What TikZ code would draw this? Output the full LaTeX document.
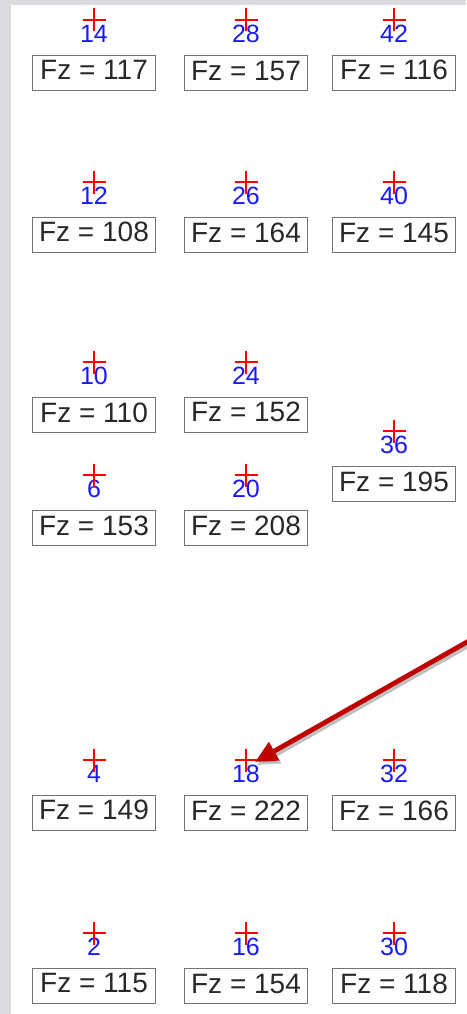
\documentclass[tikz,border=0pt]{standalone}
\usepackage{fontspec}
\setmainfont{Liberation Sans}
\usepackage{xcolor}
\usepackage{tikz}
\usetikzlibrary{arrows.meta, positioning}

\definecolor{bggray}{RGB}{220,218,222}
\definecolor{boxgray}{RGB}{115,115,115}
\definecolor{fztext}{RGB}{40,40,40}
\definecolor{idblue}{RGB}{25,25,255}
\definecolor{arrowred}{RGB}{192,0,0}

\newcommand{\fzfont}{\fontsize{28}{30}\selectfont}
\newcommand{\idfont}{\fontsize{25}{27}\selectfont}
\newcommand{\crossat}[1]{\draw[plus] (#1) +(-11.5,0) -- +(11.5,0) +(0,-11.5) -- +(0,11.5);}

\begin{document}
\begin{tikzpicture}[x=1pt, y=-1pt,
  fzbox/.style={rectangle, draw=boxgray, line width=1.2pt, minimum width=123pt, minimum height=35pt, inner sep=0pt, text height=20pt, text depth=6pt, text=fztext, font=\fzfont},
  idlabel/.style={inner sep=0pt, text=idblue, font=\idfont},
  plus/.style={red, line width=1.3pt},
  pointer/.style={-{Triangle[length=22pt,width=20pt]}, line width=4.8pt}
]
  % background
  \fill[bggray] (0,0) rectangle (466,1014);
  \fill[white] (11,5) rectangle (466,1014);
  \useasboundingbox (0,0) rectangle (466,1014);

  % marker points
  \coordinate (p14) at (94,20);
  \coordinate (p28) at (246,20);
  \coordinate (p42) at (394,20);
  \coordinate (p12) at (94,182);
  \coordinate (p26) at (246,182);
  \coordinate (p40) at (394,182);
  \coordinate (p10) at (94,362);
  \coordinate (p24) at (246,362);
  \coordinate (p36) at (394,431);
  \coordinate (p6) at (94,475);
  \coordinate (p20) at (246,475);
  \coordinate (p4) at (94,760);
  \coordinate (p18) at (246,760);
  \coordinate (p32) at (394,760);
  \coordinate (p2) at (94,933);
  \coordinate (p16) at (246,933);
  \coordinate (p30) at (394,933);

  % numbers
  \node[idlabel, below=5pt of p14] (l14) {14};
  \node[idlabel, below=5pt of p28] (l28) {28};
  \node[idlabel, below=5pt of p42] (l42) {42};
  \node[idlabel, below=5pt of p12] (l12) {12};
  \node[idlabel, below=5pt of p26] (l26) {26};
  \node[idlabel, below=5pt of p40] (l40) {40};
  \node[idlabel, below=5pt of p10] (l10) {10};
  \node[idlabel, below=5pt of p24] (l24) {24};
  \node[idlabel, below=5pt of p36] (l36) {36};
  \node[idlabel, below=5pt of p6] (l6) {6};
  \node[idlabel, below=5pt of p20] (l20) {20};
  \node[idlabel, below=5pt of p4] (l4) {4};
  \node[idlabel, below=5pt of p18] (l18) {18};
  \node[idlabel, below=5pt of p32] (l32) {32};
  \node[idlabel, below=5pt of p2] (l2) {2};
  \node[idlabel, below=5pt of p16] (l16) {16};
  \node[idlabel, below=5pt of p30] (l30) {30};

  % force boxes
  \node[fzbox, below=12pt of l14] (b14) {Fz = 117};
  \node[fzbox, below=12pt of l28] (b28) {Fz = 157};
  \node[fzbox, below=12pt of l42] (b42) {Fz = 116};
  \node[fzbox, below=12pt of l12] (b12) {Fz = 108};
  \node[fzbox, below=12pt of l26] (b26) {Fz = 164};
  \node[fzbox, below=12pt of l40] (b40) {Fz = 145};
  \node[fzbox, below=12pt of l10] (b10) {Fz = 110};
  \node[fzbox, below=12pt of l24] (b24) {Fz = 152};
  \node[fzbox, below=12pt of l36] (b36) {Fz = 195};
  \node[fzbox, below=12pt of l6] (b6) {Fz = 153};
  \node[fzbox, below=12pt of l20] (b20) {Fz = 208};
  \node[fzbox, below=12pt of l4] (b4) {Fz = 149};
  \node[fzbox, below=12pt of l18] (b18) {Fz = 222};
  \node[fzbox, below=12pt of l32] (b32) {Fz = 166};
  \node[fzbox, below=12pt of l2] (b2) {Fz = 115};
  \node[fzbox, below=12pt of l16] (b16) {Fz = 154};
  \node[fzbox, below=12pt of l30] (b30) {Fz = 118};

  % crosses
  \foreach \p in {14,28,42,12,26,40,10,24,36,6,20,4,18,32,2,16,30} {\crossat{p\p}}

  % pointer
  \coordinate (from) at (490,629);
  \coordinate (tip) at (255,762);
  \draw[pointer, color=black, opacity=0.25, transform canvas={shift={(2pt,-3pt)}}] (from) -- (tip);
  \draw[pointer, color=arrowred] (from) -- (tip);
\end{tikzpicture}
\end{document}
